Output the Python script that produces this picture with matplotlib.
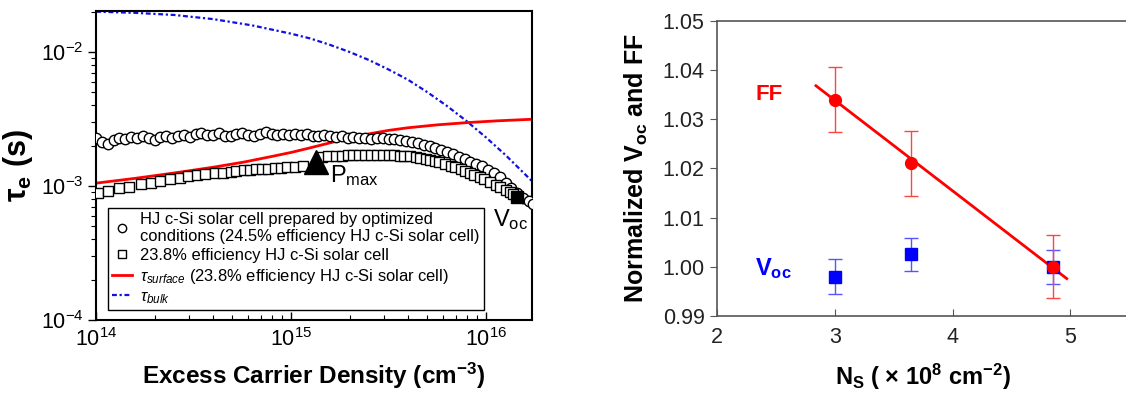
import numpy as np
import matplotlib
matplotlib.use("Agg")
import matplotlib.pyplot as plt
from matplotlib.ticker import LogLocator, LogFormatterMathtext, NullFormatter, FormatStrFormatter

plt.rcParams['font.family'] = ['Liberation Sans', 'DejaVu Sans']
plt.rcParams['mathtext.fontset'] = 'custom'
plt.rcParams['mathtext.rm'] = 'Liberation Sans'
plt.rcParams['mathtext.it'] = 'Liberation Sans:italic'
plt.rcParams['mathtext.bf'] = 'Liberation Sans:bold'

# ---- left panel data (x as log10 of carrier density, tau in ms) ----
circ_logx = [14.00, 14.03, 14.06, 14.09, 14.12, 14.15, 14.18, 14.21, 14.24, 14.27,
             14.30, 14.33, 14.36, 14.39, 14.42, 14.45, 14.48, 14.51, 14.54, 14.57,
             14.60, 14.63, 14.66, 14.69, 14.72, 14.75, 14.78, 14.81, 14.84, 14.87,
             14.90, 14.93, 14.96, 14.99, 15.02, 15.05, 15.08, 15.11, 15.14, 15.17,
             15.20, 15.23, 15.26, 15.29, 15.32, 15.35, 15.38, 15.41, 15.44, 15.47,
             15.50, 15.53, 15.56, 15.59, 15.62, 15.65, 15.68, 15.71, 15.74, 15.77,
             15.80, 15.83, 15.86, 15.89, 15.92, 15.95, 15.98, 16.01, 16.04, 16.07,
             16.10, 16.13, 16.16, 16.19, 16.22, 16.24]
circ_tau = [2.30, 2.12, 2.05, 2.20, 2.30, 2.26, 2.33, 2.30, 2.35, 2.28,
            2.22, 2.34, 2.38, 2.30, 2.36, 2.40, 2.33, 2.45, 2.50, 2.42,
            2.40, 2.47, 2.38, 2.35, 2.44, 2.50, 2.42, 2.38, 2.46, 2.52,
            2.44, 2.40, 2.46, 2.42, 2.44, 2.40, 2.43, 2.38, 2.36, 2.40,
            2.35, 2.32, 2.36, 2.30, 2.33, 2.28, 2.30, 2.26, 2.30, 2.27,
            2.26, 2.24, 2.22, 2.18, 2.14, 2.10, 2.04, 1.98, 1.92, 1.86,
            1.79, 1.72, 1.65, 1.58, 1.52, 1.46, 1.40, 1.32, 1.24, 1.16,
            1.06, 0.97, 0.89, 0.82, 0.77, 0.74]

sq_logx = [14.01, 14.06, 14.12, 14.17, 14.23, 14.28, 14.33, 14.38, 14.43, 14.47,
           14.52, 14.56, 14.61, 14.65, 14.69, 14.72, 14.76, 14.79, 14.82, 14.85,
           14.88, 14.92, 14.95, 14.98, 15.02, 15.06,
           15.16, 15.19, 15.23, 15.26, 15.29, 15.32, 15.35, 15.38, 15.41, 15.44,
           15.47, 15.50, 15.53, 15.56, 15.58, 15.61, 15.64, 15.66, 15.69, 15.71,
           15.74, 15.76, 15.79, 15.82, 15.84, 15.87, 15.89, 15.92, 15.94, 15.97,
           15.99, 16.02, 16.05, 16.07, 16.10, 16.12, 16.14]
sq_tau = [0.89, 0.92, 0.96, 0.99, 1.03, 1.06, 1.09, 1.12, 1.15, 1.18,
          1.20, 1.22, 1.24, 1.26, 1.28, 1.29, 1.31, 1.32, 1.33, 1.34,
          1.35, 1.36, 1.37, 1.38, 1.39, 1.40,
          1.64, 1.66, 1.67, 1.68, 1.69, 1.70, 1.70, 1.71, 1.71, 1.71,
          1.71, 1.70, 1.69, 1.68, 1.67, 1.66, 1.64, 1.62, 1.59, 1.56,
          1.53, 1.50, 1.46, 1.42, 1.38, 1.34, 1.29, 1.24, 1.20, 1.17,
          1.12, 1.07, 1.02, 0.98, 0.94, 0.90, 0.87]

surf_logx = [14.00, 14.20, 14.40, 14.60, 14.76, 14.90, 15.00, 15.10, 15.20, 15.30,
             15.40, 15.50, 15.60, 15.75, 15.90, 16.05, 16.24]
surf_tau = [1.05, 1.14, 1.25, 1.38, 1.51, 1.66, 1.78, 1.93, 2.10, 2.28,
            2.45, 2.60, 2.72, 2.86, 2.97, 3.06, 3.15]

bulk_logx = [14.00, 14.20, 14.40, 14.60, 14.80, 15.00, 15.10, 15.20, 15.30, 15.40,
             15.50, 15.60, 15.70, 15.80, 15.90, 16.00, 16.10, 16.24]
bulk_tau = [20.0, 19.6, 18.9, 17.6, 15.8, 13.7, 12.6, 11.3, 10.0, 8.7,
            7.4, 6.2, 5.0, 3.95, 3.05, 2.3, 1.7, 1.07]

pmax_logx, pmax_tau = 15.13, 1.51
voc_logx, voc_tau = 16.16, 0.83

# ---- right panel data ----
ns = [3.0, 3.65, 4.85]
ff = [1.034, 1.021, 1.000]
ff_err = [0.0066, 0.0067, 0.0064]
voc = [0.998, 1.0025, 1.000]
voc_err = [0.0035, 0.0034, 0.0034]
fit_x = [2.84, 4.97]
fit_y = [1.0368, 0.9976]

fig = plt.figure(figsize=(11.26, 3.93), dpi=100)

# ================= left panel =================
ax = fig.add_axes([0.0853, 0.1858, 0.3872, 0.786])
ms = 1e-3
ax.plot(10 ** np.array(bulk_logx), np.array(bulk_tau) * ms, color='#1010e0', lw=1.6,
        ls=(0, (2.2, 1.2, 1, 1.2)), label=r'$\tau_{bulk}$', zorder=2)
ax.plot(10 ** np.array(surf_logx), np.array(surf_tau) * ms, color='#ff0000', lw=2,
        label=r'$\tau_{surface}$ (23.8% efficiency HJ c-Si solar cell)', zorder=2)
ax.plot(10 ** np.array(circ_logx), np.array(circ_tau) * ms, 'o', mfc='white', mec='black',
        mew=1.0, ms=7.5,
        label='HJ c-Si solar cell prepared by optimized\nconditions (24.5% efficiency HJ c-Si solar cell)',
        zorder=3)
ax.plot(10 ** np.array(sq_logx), np.array(sq_tau) * ms, 's', mfc='white', mec='black',
        mew=1.0, ms=7.5, label='23.8% efficiency HJ c-Si solar cell', zorder=4)
ax.plot([10 ** pmax_logx], [pmax_tau * ms], '^', color='black', ms=17, zorder=5)
ax.plot([10 ** voc_logx], [voc_tau * ms], 's', color='black', ms=9, zorder=5)

ax.text(1.58e15, 1.2e-3, r'P$_{\mathrm{max}}$', fontsize=17, ha='left', va='center')
ax.text(1.08e16, 5.6e-4, r'V$_{\mathrm{oc}}$', fontsize=17, ha='left', va='center')

ax.set_xscale('log')
ax.set_yscale('log')
ax.set_xlim(1e14, 1.72e16)
ax.set_ylim(1e-4, 2.02e-2)
ax.xaxis.set_major_locator(LogLocator(base=10, numticks=10))
ax.yaxis.set_major_locator(LogLocator(base=10, numticks=10))
ax.xaxis.set_major_formatter(LogFormatterMathtext())
ax.yaxis.set_major_formatter(LogFormatterMathtext())
ax.xaxis.set_minor_formatter(NullFormatter())
ax.yaxis.set_minor_formatter(NullFormatter())
ax.tick_params(axis='x', which='both', direction='in', labelsize=15.5, pad=6)
ax.tick_params(axis='y', which='both', direction='out', labelsize=15.5, pad=3)
ax.tick_params(which='major', length=6, width=1)
ax.tick_params(which='minor', length=3.5, width=0.8)
for s in ax.spines.values():
    s.set_linewidth(1.5)
    s.set_color('black')

ax.set_xlabel('Excess Carrier Density (cm$^{\\mathbf{-3}}$)', fontsize=17.5, fontweight='bold',
              labelpad=7)
ax.set_ylabel('τ$_{\\mathbf{e}}$ (s)', fontsize=22, fontweight='bold', labelpad=4)

h, l = ax.get_legend_handles_labels()
order = [2, 3, 1, 0]
leg = ax.legend([h[i] for i in order], [l[i] for i in order], loc='lower left',
                bbox_to_anchor=(0.028, 0.032), borderaxespad=0, fontsize=11.9,
                handlelength=1.2, handletextpad=0.5, labelspacing=0.22, borderpad=0.25,
                fancybox=False, markerscale=0.8, framealpha=1)
leg.get_frame().set_edgecolor('black')
leg.get_frame().set_linewidth(1.0)

# ================= right panel =================
ax2 = fig.add_axes([0.6368, 0.196, 0.366, 0.751])
ax2.plot(fit_x, fit_y, color='#ff0000', lw=2, zorder=2)
ax2.errorbar(ns, voc, yerr=voc_err, fmt='s', color='#0000ff', ms=8, ecolor='#5555ff',
             elinewidth=1, capsize=5, capthick=1, zorder=3)
ax2.errorbar(ns, ff, yerr=ff_err, fmt='o', color='#ff0000', ms=8.5, ecolor='#ff4444',
             elinewidth=1, capsize=5, capthick=1, zorder=4)

ax2.text(2.44, 1.035, 'FF', color='#ff0000', fontsize=16, fontweight='bold',
         ha='center', va='center')
ax2.text(2.48, 0.9996, r'V$_{\mathbf{oc}}$', color='#0000ff', fontsize=17, fontweight='bold',
         ha='center', va='center')

ax2.set_xlim(2, 5.5)
ax2.set_ylim(0.99, 1.05)
ax2.set_xticks([2, 3, 4, 5])
ax2.set_yticks([0.99, 1.00, 1.01, 1.02, 1.03, 1.04, 1.05])
ax2.yaxis.set_major_formatter(FormatStrFormatter('%.2f'))
ax2.tick_params(axis='x', direction='in', labelsize=15.5, length=5, pad=8, colors='#555555',
                labelcolor='#222222')
ax2.tick_params(axis='y', direction='out', labelsize=15.5, length=5, pad=4, colors='#555555',
                labelcolor='#222222')
for s in ax2.spines.values():
    s.set_color('#555555')
    s.set_linewidth(1.2)

ax2.set_xlabel(r'N$_{\mathbf{S}}$ ( × 10$^{\mathbf{8}}$ cm$^{\mathbf{-2}}$)', fontsize=17,
               fontweight='bold', labelpad=10)
ax2.set_ylabel(r'Normalized V$_{\mathbf{oc}}$ and FF', fontsize=18, fontweight='bold',
               labelpad=9)

fig.savefig('out.png', dpi=100)
